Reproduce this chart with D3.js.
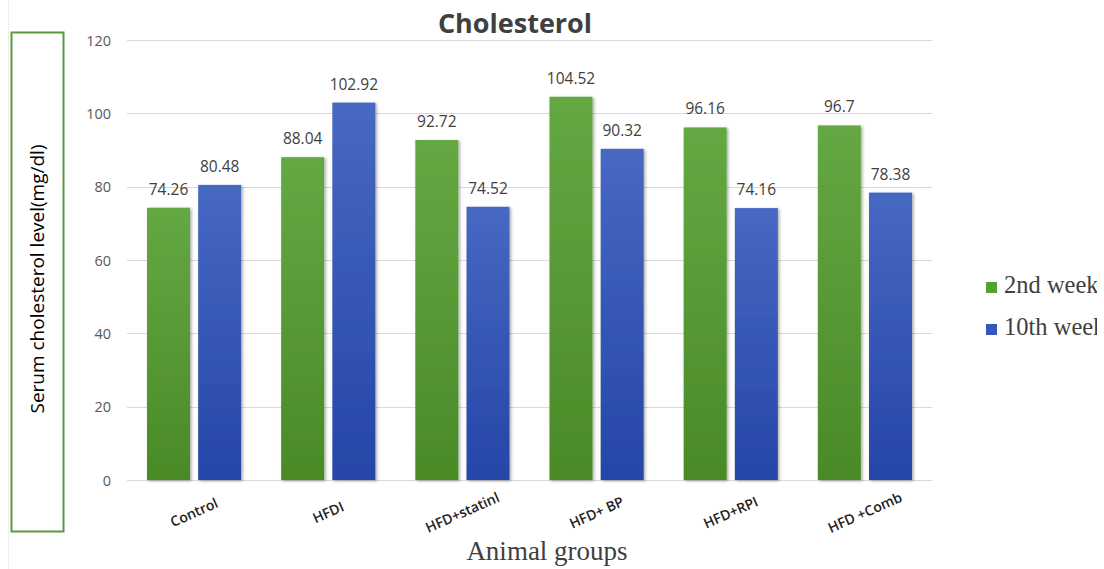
<!DOCTYPE html>
<html>
<head>
<meta charset="utf-8">
<script src="https://cdn.jsdelivr.net/npm/d3@7"></script>
<style>
  html, body { margin: 0; padding: 0; background: #fff; }
  svg { display: block; }
</style>
</head>
<body>
<svg id="chart" width="1104" height="569"></svg>
<script>
// Chart data
const groups = ["Control", "HFDI", "HFD+statinl", "HFD+ BP", "HFD+RPI", "HFD +Comb"];
const seriesNames = ["2nd week", "10th week"];
const week2 = [74.26, 88.04, 92.72, 104.52, 96.16, 96.7];
const week10 = [80.48, 102.92, 74.52, 90.32, 74.16, 78.38];
const yTicks = [0, 20, 40, 60, 80, 100, 120];

const svg = d3.select("#chart");
const defs = svg.append("defs");

// Bar gradients and soft shadow
const gradSpecs = [
  { id: "gGreen", top: "#64a843", bottom: "#4a8a27" },
  { id: "gBlue", top: "#4768c2", bottom: "#2446a8" }
];
gradSpecs.forEach(g => {
  const lg = defs.append("linearGradient").attr("id", g.id)
    .attr("x1", 0).attr("y1", 0).attr("x2", 0).attr("y2", 1);
  lg.append("stop").attr("offset", "0%").attr("stop-color", g.top);
  lg.append("stop").attr("offset", "100%").attr("stop-color", g.bottom);
});
const shadow = defs.append("filter").attr("id", "barShadow")
  .attr("x", "-20%").attr("y", "-5%").attr("width", "140%").attr("height", "115%");
shadow.append("feDropShadow").attr("dx", 1.5).attr("dy", 1).attr("stdDeviation", 1.6)
  .attr("flood-color", "#000").attr("flood-opacity", 0.35);

// Legend area is cut off at the right border of the figure
defs.append("clipPath").attr("id", "legendClip")
  .append("rect").attr("x", 0).attr("y", 0).attr("width", 1097).attr("height", 569);

// faint frame edge on the left
svg.append("line").attr("x1", 8.5).attr("x2", 8.5).attr("y1", 0).attr("y2", 569)
  .attr("stroke", "#eeeeee");

const x0 = d3.scaleBand().domain(groups).range([127, 932]).paddingInner(0).paddingOuter(0);
const x1 = d3.scaleBand().domain(seriesNames).range([20, x0.bandwidth() - 20]).paddingInner(0.16);
const y = d3.scaleLinear().domain([0, 120]).range([480, 40]);

// Gridlines
svg.append("g").selectAll("line").data(yTicks).join("line")
  .attr("x1", 127).attr("x2", 932)
  .attr("y1", d => Math.round(y(d)) + 0.5).attr("y2", d => Math.round(y(d)) + 0.5)
  .attr("stroke", "#d9d9d9").attr("stroke-width", 1.2);

// Y axis tick labels
const yAxis = d3.axisLeft(y).tickValues(yTicks).tickSize(0).tickPadding(0);
const yG = svg.append("g").attr("transform", "translate(111,0)").call(yAxis);
yG.select(".domain").remove();
yG.selectAll("text")
  .attr("font-family", "'Open Sans', sans-serif").attr("font-size", 14.5)
  .attr("fill", "#595959").attr("dy", "0.35em");

// Bars
const data = groups.map((g, i) => ({ group: g, vals: [
  { s: seriesNames[0], v: week2[i], fill: "url(#gGreen)" },
  { s: seriesNames[1], v: week10[i], fill: "url(#gBlue)" }
]}));

const gGroups = svg.append("g").selectAll("g").data(data).join("g")
  .attr("transform", d => `translate(${x0(d.group)},0)`);

gGroups.selectAll("rect").data(d => d.vals).join("rect")
  .attr("x", d => x1(d.s)).attr("width", x1.bandwidth())
  .attr("y", d => y(d.v)).attr("height", d => y(0) - y(d.v))
  .attr("fill", d => d.fill).attr("filter", "url(#barShadow)");

// Value labels
gGroups.selectAll("text.val").data(d => d.vals).join("text")
  .attr("class", "val")
  .attr("x", d => x1(d.s) + x1.bandwidth() / 2)
  .attr("y", d => y(d.v) - 13)
  .attr("text-anchor", "middle")
  .attr("font-family", "'Open Sans', sans-serif").attr("font-size", 15.5)
  .attr("fill", "#404040")
  .text(d => d.v);

// Category labels (rotated)
svg.append("g").selectAll("text").data(groups).join("text")
  .attr("transform", d => `translate(${x0(d) + x0.bandwidth() / 2 + 2},${517}) rotate(-24)`)
  .attr("text-anchor", "middle")
  .attr("font-family", "'Open Sans', sans-serif").attr("font-size", 14)
  .attr("font-weight", 600).attr("fill", "#222")
  .text(d => d);

// Title
svg.append("text").attr("x", 515).attr("y", 33).attr("text-anchor", "middle")
  .attr("font-family", "'Open Sans', sans-serif").attr("font-size", 27)
  .attr("font-weight", 700).attr("fill", "#404040")
  .text("Cholesterol");

// X axis title
svg.append("text").attr("x", 547).attr("y", 560).attr("text-anchor", "middle")
  .attr("font-family", "'Liberation Serif', serif").attr("font-size", 27)
  .attr("fill", "#404040")
  .text("Animal groups");

// Y axis title in a green box
svg.append("rect").attr("x", 11.5).attr("y", 32.5).attr("width", 52).attr("height", 499)
  .attr("fill", "none").attr("stroke", "#5b9a3c").attr("stroke-width", 2);
svg.append("text").attr("transform", "translate(44,279) rotate(-90)")
  .attr("text-anchor", "middle")
  .attr("font-family", "'Open Sans', sans-serif").attr("font-size", 19)
  .attr("fill", "#000")
  .text("Serum cholesterol level(mg/dl)");

// Legend
const legendColors = ["#5a9e38", "#3558b8"];
const leg = svg.append("g").attr("clip-path", "url(#legendClip)")
  .selectAll("g").data(seriesNames).join("g")
  .attr("transform", (d, i) => `translate(986,${282 + i * 42})`);
leg.append("rect").attr("width", 11).attr("height", 11)
  .attr("fill", (d, i) => legendColors[i]);
leg.append("text").attr("x", 18).attr("y", 11)
  .attr("font-family", "'Liberation Serif', serif").attr("font-size", 24.5)
  .attr("fill", "#404040")
  .text(d => d);
</script>
</body>
</html>
